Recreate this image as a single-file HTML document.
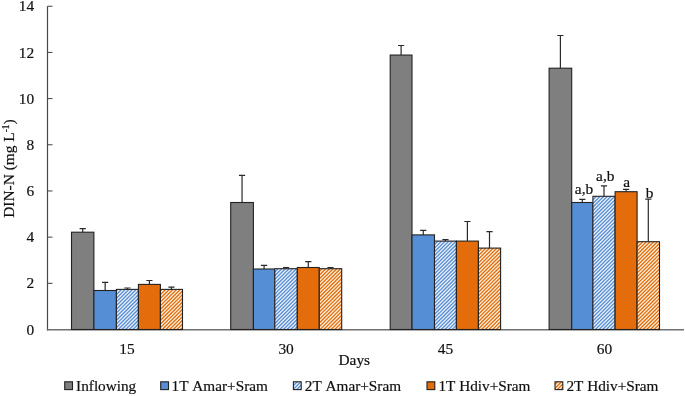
<!DOCTYPE html>
<html><head><meta charset="utf-8"><title>DIN-N chart</title>
<style>
html,body{margin:0;padding:0;background:#fff;}
svg{display:block;}
text{font-family:"Liberation Serif","Times New Roman",serif;fill:#111;stroke:#111;stroke-width:0.2px;font-kerning:none;}
</style></head><body>
<svg width="685" height="396" viewBox="0 0 685 396">
<rect width="685" height="396" fill="#ffffff"/>

<path d="M47.5 6.2V330.4" stroke="#484848" stroke-width="1.2" fill="none"/>
<path d="M46.9 329.8H684.0" stroke="#707070" stroke-width="1.5" fill="none"/>
<rect x="71.50" y="232.20" width="22.40" height="97.30" fill="#7f7f7f" stroke="#222222" stroke-width="1.1"/>
<path d="M82.70 232.20V228.70M79.60 228.70H85.80" stroke="#2a2a2a" stroke-width="1.2" fill="none"/>
<rect x="93.90" y="290.50" width="22.50" height="39.00" fill="#558ed5" stroke="#222222" stroke-width="1.1"/>
<path d="M105.15 290.50V282.30M102.05 282.30H108.25" stroke="#2a2a2a" stroke-width="1.2" fill="none"/>
<clipPath id="c1"><rect x="116.40" y="289.40" width="22.00" height="40.10"/></clipPath><rect x="116.40" y="289.40" width="22.00" height="40.10" fill="#eef3fb"/><path clip-path="url(#c1)" d="M115.40 284.63L139.40 260.63M115.40 288.30L139.40 264.30M115.40 291.97L139.40 267.97M115.40 295.64L139.40 271.64M115.40 299.31L139.40 275.31M115.40 302.98L139.40 278.98M115.40 306.65L139.40 282.65M115.40 310.32L139.40 286.32M115.40 313.99L139.40 289.99M115.40 317.66L139.40 293.66M115.40 321.33L139.40 297.33M115.40 325.00L139.40 301.00M115.40 328.67L139.40 304.67M115.40 332.34L139.40 308.34M115.40 336.01L139.40 312.01M115.40 339.68L139.40 315.68M115.40 343.35L139.40 319.35M115.40 347.02L139.40 323.02M115.40 350.69L139.40 326.69M115.40 354.36L139.40 330.36M115.40 358.03L139.40 334.03" stroke="#5a90d6" stroke-width="1.35" fill="none"/><rect x="116.40" y="289.40" width="22.00" height="40.10" fill="none" stroke="#222222" stroke-width="1.1"/>
<path d="M127.40 289.40V288.00M124.30 288.00H130.50" stroke="#2a2a2a" stroke-width="1.2" fill="none"/>
<rect x="138.40" y="284.40" width="22.00" height="45.10" fill="#e46c0a" stroke="#222222" stroke-width="1.1"/>
<path d="M149.40 284.40V280.50M146.30 280.50H152.50" stroke="#2a2a2a" stroke-width="1.2" fill="none"/>
<clipPath id="c2"><rect x="160.40" y="289.40" width="22.10" height="40.10"/></clipPath><rect x="160.40" y="289.40" width="22.10" height="40.10" fill="#fff3df"/><path clip-path="url(#c2)" d="M159.40 284.67L183.50 260.57M159.40 288.34L183.50 264.24M159.40 292.01L183.50 267.91M159.40 295.68L183.50 271.58M159.40 299.35L183.50 275.25M159.40 303.02L183.50 278.92M159.40 306.69L183.50 282.59M159.40 310.36L183.50 286.26M159.40 314.03L183.50 289.93M159.40 317.70L183.50 293.60M159.40 321.37L183.50 297.27M159.40 325.04L183.50 300.94M159.40 328.71L183.50 304.61M159.40 332.38L183.50 308.28M159.40 336.05L183.50 311.95M159.40 339.72L183.50 315.62M159.40 343.39L183.50 319.29M159.40 347.06L183.50 322.96M159.40 350.73L183.50 326.63M159.40 354.40L183.50 330.30M159.40 358.07L183.50 333.97" stroke="#e36f12" stroke-width="1.35" fill="none"/><rect x="160.40" y="289.40" width="22.10" height="40.10" fill="none" stroke="#222222" stroke-width="1.1"/>
<path d="M171.45 289.40V287.20M168.35 287.20H174.55" stroke="#2a2a2a" stroke-width="1.2" fill="none"/>
<rect x="230.70" y="202.50" width="22.70" height="127.00" fill="#7f7f7f" stroke="#222222" stroke-width="1.1"/>
<path d="M242.05 202.50V175.40M238.95 175.40H245.15" stroke="#2a2a2a" stroke-width="1.2" fill="none"/>
<rect x="253.40" y="269.00" width="21.40" height="60.50" fill="#558ed5" stroke="#222222" stroke-width="1.1"/>
<path d="M264.10 269.00V265.30M261.00 265.30H267.20" stroke="#2a2a2a" stroke-width="1.2" fill="none"/>
<clipPath id="c3"><rect x="274.80" y="268.70" width="22.50" height="60.80"/></clipPath><rect x="274.80" y="268.70" width="22.50" height="60.80" fill="#eef3fb"/><path clip-path="url(#c3)" d="M273.80 265.69L298.30 241.19M273.80 269.36L298.30 244.86M273.80 273.03L298.30 248.53M273.80 276.70L298.30 252.20M273.80 280.37L298.30 255.87M273.80 284.04L298.30 259.54M273.80 287.71L298.30 263.21M273.80 291.38L298.30 266.88M273.80 295.05L298.30 270.55M273.80 298.72L298.30 274.22M273.80 302.39L298.30 277.89M273.80 306.06L298.30 281.56M273.80 309.73L298.30 285.23M273.80 313.40L298.30 288.90M273.80 317.07L298.30 292.57M273.80 320.74L298.30 296.24M273.80 324.41L298.30 299.91M273.80 328.08L298.30 303.58M273.80 331.75L298.30 307.25M273.80 335.42L298.30 310.92M273.80 339.09L298.30 314.59M273.80 342.76L298.30 318.26M273.80 346.43L298.30 321.93M273.80 350.10L298.30 325.60M273.80 353.77L298.30 329.27M273.80 357.44L298.30 332.94" stroke="#5a90d6" stroke-width="1.35" fill="none"/><rect x="274.80" y="268.70" width="22.50" height="60.80" fill="none" stroke="#222222" stroke-width="1.1"/>
<path d="M286.05 268.70V267.50M282.95 267.50H289.15" stroke="#2a2a2a" stroke-width="1.2" fill="none"/>
<rect x="297.30" y="267.50" width="22.00" height="62.00" fill="#e46c0a" stroke="#222222" stroke-width="1.1"/>
<path d="M308.30 267.50V261.70M305.20 261.70H311.40" stroke="#2a2a2a" stroke-width="1.2" fill="none"/>
<clipPath id="c4"><rect x="319.30" y="268.70" width="22.40" height="60.80"/></clipPath><rect x="319.30" y="268.70" width="22.40" height="60.80" fill="#fff3df"/><path clip-path="url(#c4)" d="M318.30 265.23L342.70 240.83M318.30 268.90L342.70 244.50M318.30 272.57L342.70 248.17M318.30 276.24L342.70 251.84M318.30 279.91L342.70 255.51M318.30 283.58L342.70 259.18M318.30 287.25L342.70 262.85M318.30 290.92L342.70 266.52M318.30 294.59L342.70 270.19M318.30 298.26L342.70 273.86M318.30 301.93L342.70 277.53M318.30 305.60L342.70 281.20M318.30 309.27L342.70 284.87M318.30 312.94L342.70 288.54M318.30 316.61L342.70 292.21M318.30 320.28L342.70 295.88M318.30 323.95L342.70 299.55M318.30 327.62L342.70 303.22M318.30 331.29L342.70 306.89M318.30 334.96L342.70 310.56M318.30 338.63L342.70 314.23M318.30 342.30L342.70 317.90M318.30 345.97L342.70 321.57M318.30 349.64L342.70 325.24M318.30 353.31L342.70 328.91M318.30 356.98L342.70 332.58" stroke="#e36f12" stroke-width="1.35" fill="none"/><rect x="319.30" y="268.70" width="22.40" height="60.80" fill="none" stroke="#222222" stroke-width="1.1"/>
<path d="M330.50 268.70V267.50M327.40 267.50H333.60" stroke="#2a2a2a" stroke-width="1.2" fill="none"/>
<rect x="390.20" y="55.05" width="21.80" height="274.45" fill="#7f7f7f" stroke="#222222" stroke-width="1.1"/>
<path d="M401.10 55.05V45.50M398.00 45.50H404.20" stroke="#2a2a2a" stroke-width="1.2" fill="none"/>
<rect x="412.00" y="234.90" width="22.50" height="94.60" fill="#558ed5" stroke="#222222" stroke-width="1.1"/>
<path d="M423.25 234.90V230.30M420.15 230.30H426.35" stroke="#2a2a2a" stroke-width="1.2" fill="none"/>
<clipPath id="c5"><rect x="434.50" y="241.10" width="21.90" height="88.40"/></clipPath><rect x="434.50" y="241.10" width="21.90" height="88.40" fill="#eef3fb"/><path clip-path="url(#c5)" d="M433.50 238.11L457.40 214.21M433.50 241.78L457.40 217.88M433.50 245.45L457.40 221.55M433.50 249.12L457.40 225.22M433.50 252.79L457.40 228.89M433.50 256.46L457.40 232.56M433.50 260.13L457.40 236.23M433.50 263.80L457.40 239.90M433.50 267.47L457.40 243.57M433.50 271.14L457.40 247.24M433.50 274.81L457.40 250.91M433.50 278.48L457.40 254.58M433.50 282.15L457.40 258.25M433.50 285.82L457.40 261.92M433.50 289.49L457.40 265.59M433.50 293.16L457.40 269.26M433.50 296.83L457.40 272.93M433.50 300.50L457.40 276.60M433.50 304.17L457.40 280.27M433.50 307.84L457.40 283.94M433.50 311.51L457.40 287.61M433.50 315.18L457.40 291.28M433.50 318.85L457.40 294.95M433.50 322.52L457.40 298.62M433.50 326.19L457.40 302.29M433.50 329.86L457.40 305.96M433.50 333.53L457.40 309.63M433.50 337.20L457.40 313.30M433.50 340.87L457.40 316.97M433.50 344.54L457.40 320.64M433.50 348.21L457.40 324.31M433.50 351.88L457.40 327.98M433.50 355.55L457.40 331.65M433.50 359.22L457.40 335.32" stroke="#5a90d6" stroke-width="1.35" fill="none"/><rect x="434.50" y="241.10" width="21.90" height="88.40" fill="none" stroke="#222222" stroke-width="1.1"/>
<path d="M445.45 241.10V239.60M442.35 239.60H448.55" stroke="#2a2a2a" stroke-width="1.2" fill="none"/>
<rect x="456.40" y="241.10" width="22.00" height="88.40" fill="#e46c0a" stroke="#222222" stroke-width="1.1"/>
<path d="M467.40 241.10V221.50M464.30 221.50H470.50" stroke="#2a2a2a" stroke-width="1.2" fill="none"/>
<clipPath id="c6"><rect x="478.40" y="248.10" width="22.20" height="81.40"/></clipPath><rect x="478.40" y="248.10" width="22.20" height="81.40" fill="#fff3df"/><path clip-path="url(#c6)" d="M477.40 241.92L501.60 217.72M477.40 245.59L501.60 221.39M477.40 249.26L501.60 225.06M477.40 252.93L501.60 228.73M477.40 256.60L501.60 232.40M477.40 260.27L501.60 236.07M477.40 263.94L501.60 239.74M477.40 267.61L501.60 243.41M477.40 271.28L501.60 247.08M477.40 274.95L501.60 250.75M477.40 278.62L501.60 254.42M477.40 282.29L501.60 258.09M477.40 285.96L501.60 261.76M477.40 289.63L501.60 265.43M477.40 293.30L501.60 269.10M477.40 296.97L501.60 272.77M477.40 300.64L501.60 276.44M477.40 304.31L501.60 280.11M477.40 307.98L501.60 283.78M477.40 311.65L501.60 287.45M477.40 315.32L501.60 291.12M477.40 318.99L501.60 294.79M477.40 322.66L501.60 298.46M477.40 326.33L501.60 302.13M477.40 330.00L501.60 305.80M477.40 333.67L501.60 309.47M477.40 337.34L501.60 313.14M477.40 341.01L501.60 316.81M477.40 344.68L501.60 320.48M477.40 348.35L501.60 324.15M477.40 352.02L501.60 327.82M477.40 355.69L501.60 331.49M477.40 359.36L501.60 335.16" stroke="#e36f12" stroke-width="1.35" fill="none"/><rect x="478.40" y="248.10" width="22.20" height="81.40" fill="none" stroke="#222222" stroke-width="1.1"/>
<path d="M489.50 248.10V231.60M486.40 231.60H492.60" stroke="#2a2a2a" stroke-width="1.2" fill="none"/>
<rect x="549.10" y="68.20" width="22.60" height="261.30" fill="#7f7f7f" stroke="#222222" stroke-width="1.1"/>
<path d="M560.40 68.20V35.50M557.30 35.50H563.50" stroke="#2a2a2a" stroke-width="1.2" fill="none"/>
<rect x="571.70" y="202.50" width="21.20" height="127.00" fill="#558ed5" stroke="#222222" stroke-width="1.1"/>
<path d="M582.30 202.50V199.40M579.20 199.40H585.40" stroke="#2a2a2a" stroke-width="1.2" fill="none"/>
<clipPath id="c7"><rect x="592.90" y="196.30" width="22.20" height="133.20"/></clipPath><rect x="592.90" y="196.30" width="22.20" height="133.20" fill="#eef3fb"/><path clip-path="url(#c7)" d="M591.90 193.48L616.10 169.28M591.90 197.15L616.10 172.95M591.90 200.82L616.10 176.62M591.90 204.49L616.10 180.29M591.90 208.16L616.10 183.96M591.90 211.83L616.10 187.63M591.90 215.50L616.10 191.30M591.90 219.17L616.10 194.97M591.90 222.84L616.10 198.64M591.90 226.51L616.10 202.31M591.90 230.18L616.10 205.98M591.90 233.85L616.10 209.65M591.90 237.52L616.10 213.32M591.90 241.19L616.10 216.99M591.90 244.86L616.10 220.66M591.90 248.53L616.10 224.33M591.90 252.20L616.10 228.00M591.90 255.87L616.10 231.67M591.90 259.54L616.10 235.34M591.90 263.21L616.10 239.01M591.90 266.88L616.10 242.68M591.90 270.55L616.10 246.35M591.90 274.22L616.10 250.02M591.90 277.89L616.10 253.69M591.90 281.56L616.10 257.36M591.90 285.23L616.10 261.03M591.90 288.90L616.10 264.70M591.90 292.57L616.10 268.37M591.90 296.24L616.10 272.04M591.90 299.91L616.10 275.71M591.90 303.58L616.10 279.38M591.90 307.25L616.10 283.05M591.90 310.92L616.10 286.72M591.90 314.59L616.10 290.39M591.90 318.26L616.10 294.06M591.90 321.93L616.10 297.73M591.90 325.60L616.10 301.40M591.90 329.27L616.10 305.07M591.90 332.94L616.10 308.74M591.90 336.61L616.10 312.41M591.90 340.28L616.10 316.08M591.90 343.95L616.10 319.75M591.90 347.62L616.10 323.42M591.90 351.29L616.10 327.09M591.90 354.96L616.10 330.76M591.90 358.63L616.10 334.43" stroke="#5a90d6" stroke-width="1.35" fill="none"/><rect x="592.90" y="196.30" width="22.20" height="133.20" fill="none" stroke="#222222" stroke-width="1.1"/>
<path d="M604.00 196.30V185.80M600.90 185.80H607.10" stroke="#2a2a2a" stroke-width="1.2" fill="none"/>
<rect x="615.10" y="191.70" width="22.00" height="137.80" fill="#e46c0a" stroke="#222222" stroke-width="1.1"/>
<path d="M626.10 191.70V189.30M623.00 189.30H629.20" stroke="#2a2a2a" stroke-width="1.2" fill="none"/>
<clipPath id="c8"><rect x="637.10" y="241.70" width="22.40" height="87.80"/></clipPath><rect x="637.10" y="241.70" width="22.40" height="87.80" fill="#fff3df"/><path clip-path="url(#c8)" d="M636.10 237.36L660.50 212.96M636.10 241.03L660.50 216.63M636.10 244.70L660.50 220.30M636.10 248.37L660.50 223.97M636.10 252.04L660.50 227.64M636.10 255.71L660.50 231.31M636.10 259.38L660.50 234.98M636.10 263.05L660.50 238.65M636.10 266.72L660.50 242.32M636.10 270.39L660.50 245.99M636.10 274.06L660.50 249.66M636.10 277.73L660.50 253.33M636.10 281.40L660.50 257.00M636.10 285.07L660.50 260.67M636.10 288.74L660.50 264.34M636.10 292.41L660.50 268.01M636.10 296.08L660.50 271.68M636.10 299.75L660.50 275.35M636.10 303.42L660.50 279.02M636.10 307.09L660.50 282.69M636.10 310.76L660.50 286.36M636.10 314.43L660.50 290.03M636.10 318.10L660.50 293.70M636.10 321.77L660.50 297.37M636.10 325.44L660.50 301.04M636.10 329.11L660.50 304.71M636.10 332.78L660.50 308.38M636.10 336.45L660.50 312.05M636.10 340.12L660.50 315.72M636.10 343.79L660.50 319.39M636.10 347.46L660.50 323.06M636.10 351.13L660.50 326.73M636.10 354.80L660.50 330.40M636.10 358.47L660.50 334.07" stroke="#e36f12" stroke-width="1.35" fill="none"/><rect x="637.10" y="241.70" width="22.40" height="87.80" fill="none" stroke="#222222" stroke-width="1.1"/>
<path d="M648.30 241.70V199.20M645.20 199.20H651.40" stroke="#2a2a2a" stroke-width="1.2" fill="none"/>
<text x="34.2" y="334.60" font-size="15.4" text-anchor="end">0</text>
<path d="M47.5 283.32H52.5" stroke="#404040" stroke-width="1"/>
<text x="34.2" y="288.42" font-size="15.4" text-anchor="end">2</text>
<path d="M47.5 237.14H52.5" stroke="#404040" stroke-width="1"/>
<text x="34.2" y="242.24" font-size="15.4" text-anchor="end">4</text>
<path d="M47.5 190.96H52.5" stroke="#404040" stroke-width="1"/>
<text x="34.2" y="196.06" font-size="15.4" text-anchor="end">6</text>
<path d="M47.5 144.78H52.5" stroke="#404040" stroke-width="1"/>
<text x="34.2" y="149.88" font-size="15.4" text-anchor="end">8</text>
<path d="M47.5 98.60H52.5" stroke="#404040" stroke-width="1"/>
<text x="34.2" y="103.70" font-size="15.4" text-anchor="end">10</text>
<path d="M47.5 52.42H52.5" stroke="#404040" stroke-width="1"/>
<text x="34.2" y="57.52" font-size="15.4" text-anchor="end">12</text>
<path d="M47.5 6.24H52.5" stroke="#404040" stroke-width="1"/>
<text x="34.2" y="11.34" font-size="15.4" text-anchor="end">14</text>
<text x="127.00" y="353.5" font-size="15.4" text-anchor="middle">15</text>
<text x="286.10" y="353.5" font-size="15.4" text-anchor="middle">30</text>
<text x="445.40" y="353.5" font-size="15.4" text-anchor="middle">45</text>
<text x="604.40" y="353.5" font-size="15.4" text-anchor="middle">60</text>
<text x="354.3" y="364.9" font-size="15.4" text-anchor="middle">Days</text>
<text transform="translate(14.2 217.8) rotate(-90)" font-size="15.4">DIN-N (mg L<tspan font-size="9.5" dy="-5">-1</tspan><tspan dy="5">)</tspan></text>
<text x="574.8" y="193.9" font-size="15.4">a,b</text>
<text x="596.1" y="181.4" font-size="15.4">a,b</text>
<text x="623.2" y="186.7" font-size="15.4">a</text>
<text x="645.8" y="197.5" font-size="15.4">b</text>
<rect x="64.7" y="381.8" width="7.8" height="7.8" fill="#7f7f7f" stroke="#222222" stroke-width="1.1"/>
<text x="76.1" y="390.6" font-size="15.25">Inflowing</text>
<rect x="160.7" y="381.8" width="7.8" height="7.8" fill="#558ed5" stroke="#222222" stroke-width="1.1"/>
<text x="171.6" y="390.6" font-size="15.25">1T Amar+Sram</text>
<clipPath id="c9"><rect x="293.40" y="381.80" width="7.80" height="7.80"/></clipPath><rect x="293.40" y="381.80" width="7.80" height="7.80" fill="#eef3fb"/><path clip-path="url(#c9)" d="M292.40 375.54L302.20 365.74M292.40 379.21L302.20 369.41M292.40 382.88L302.20 373.08M292.40 386.55L302.20 376.75M292.40 390.22L302.20 380.42M292.40 393.89L302.20 384.09M292.40 397.56L302.20 387.76M292.40 401.23L302.20 391.43M292.40 404.90L302.20 395.10" stroke="#5a90d6" stroke-width="1.35" fill="none"/><rect x="293.40" y="381.80" width="7.80" height="7.80" fill="none" stroke="#222222" stroke-width="1.1"/>
<text x="304.8" y="390.6" font-size="15.25">2T Amar+Sram</text>
<rect x="427.0" y="381.8" width="7.8" height="7.8" fill="#e46c0a" stroke="#222222" stroke-width="1.1"/>
<text x="438.4" y="390.6" font-size="15.25">1T Hdiv+Sram</text>
<clipPath id="c10"><rect x="555.00" y="381.80" width="7.80" height="7.80"/></clipPath><rect x="555.00" y="381.80" width="7.80" height="7.80" fill="#fff3df"/><path clip-path="url(#c10)" d="M554.00 378.18L563.80 368.38M554.00 381.85L563.80 372.05M554.00 385.52L563.80 375.72M554.00 389.19L563.80 379.39M554.00 392.86L563.80 383.06M554.00 396.53L563.80 386.73M554.00 400.20L563.80 390.40M554.00 403.87L563.80 394.07" stroke="#e36f12" stroke-width="1.35" fill="none"/><rect x="555.00" y="381.80" width="7.80" height="7.80" fill="none" stroke="#222222" stroke-width="1.1"/>
<text x="566.4" y="390.6" font-size="15.25">2T Hdiv+Sram</text>
</svg></body></html>
